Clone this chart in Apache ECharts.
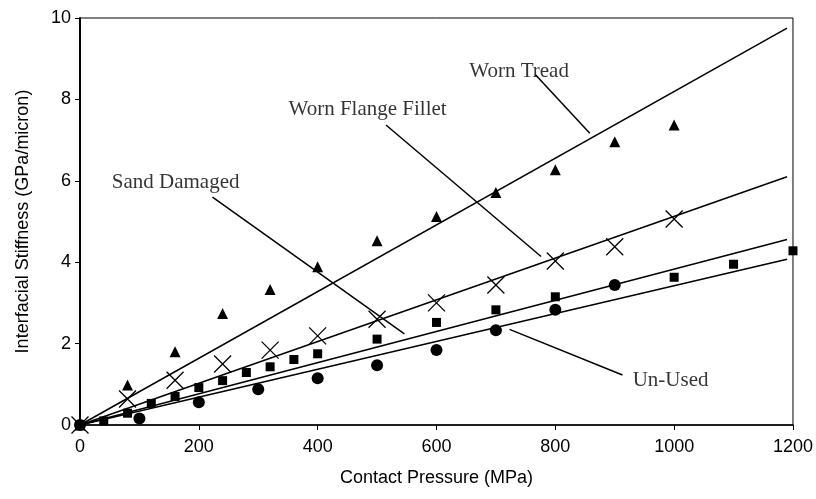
<!DOCTYPE html>
<html>
<head>
<meta charset="utf-8">
<script src="https://cdn.jsdelivr.net/npm/echarts@6/dist/echarts.min.js"></script>
<style>
html, body { margin: 0; padding: 0; background: #fff; }
#myChart { width: 816px; height: 499px; }
</style>
</head>
<body>
<div id="myChart"></div>
<script>
// 数据 (MPa, GPa/micron)
var wornTread = [[0, 0], [80, 0.98], [160, 1.80], [240, 2.74], [320, 3.33], [400, 3.89], [500, 4.53], [600, 5.12], [700, 5.71], [800, 6.27], [900, 6.96], [1000, 7.37]];
var wornFlange = [[0, 0], [80, 0.64], [160, 1.10], [240, 1.50], [320, 1.84], [400, 2.19], [500, 2.60], [600, 3.00], [700, 3.44], [800, 4.03], [900, 4.38], [1000, 5.06]];
var sandDamaged = [[0, 0], [40, 0.10], [80, 0.29], [120, 0.53], [160, 0.70], [200, 0.92], [240, 1.09], [280, 1.29], [320, 1.43], [360, 1.61], [400, 1.75], [500, 2.11], [600, 2.52], [700, 2.83], [800, 3.15], [1000, 3.63], [1100, 3.95], [1200, 4.28]];
var unUsed = [[0, 0], [100, 0.16], [200, 0.56], [300, 0.88], [400, 1.15], [500, 1.47], [600, 1.84], [700, 2.33], [800, 2.83], [900, 3.44]];

// 拟合直线
var fitTread = [[0, 0], [1190, 9.75]];
var fitFlange = [[0, 0], [1190, 6.10]];
var fitSand = [[0, 0], [1190, 4.56]];
var fitUnused = [[0, 0], [1190, 4.07]];

// 标注引线
var leaderTread = [[767, 8.60], [858, 7.17]];
var leaderFlange = [[515, 7.37], [776, 4.14]];
var leaderSand = [[223, 5.60], [546, 2.24]];
var leaderUnused = [[913, 1.23], [723, 2.35]];

// 标注文字 [x, y, text]
var labels = [[739, 8.68, 'Worn Tread'], [484, 7.75, 'Worn Flange Fillet'], [161, 5.97, 'Sand Damaged'], [994, 1.10, 'Un-Used']];

var xTicks = [0, 200, 400, 600, 800, 1000, 1200];
var yTicks = [0, 2, 4, 6, 8, 10];

var chart = echarts.init(document.getElementById('myChart'));

function lineSeries(data) {
    return {
        type: 'line',
        data: data,
        symbol: 'none',
        silent: true,
        lineStyle: { color: '#000', width: 1.5 },
        z: 2
    };
}

var opt = {
    backgroundColor: '#fff',
    animation: false,
    grid: {
        left: 80,
        right: 22,
        top: 18,
        bottom: 74,
        show: true,
        borderColor: '#000',
        borderWidth: 1
    },
    xAxis: {
        type: 'value',
        min: xTicks[0],
        max: xTicks[xTicks.length - 1],
        interval: 200,
        name: 'Contact Pressure (MPa)',
        nameLocation: 'middle',
        nameGap: 44,
        nameTextStyle: { color: '#000', fontSize: 18, fontFamily: 'Liberation Sans' },
        axisLine: { lineStyle: { color: '#000', width: 1.5 } },
        axisTick: { inside: false, length: 5, lineStyle: { color: '#000' } },
        axisLabel: {
            color: '#000', fontSize: 18, fontFamily: 'Liberation Sans', margin: 13,
            formatter: function (v) { return String(v); }
        },
        splitLine: { show: false }
    },
    yAxis: {
        type: 'value',
        min: yTicks[0],
        max: yTicks[yTicks.length - 1],
        interval: 2,
        name: 'Interfacial Stiffness (GPa/micron)',
        nameLocation: 'middle',
        nameGap: 48,
        nameTextStyle: { color: '#000', fontSize: 18, fontFamily: 'Liberation Sans' },
        axisLine: { lineStyle: { color: '#000', width: 2 } },
        axisTick: { inside: false, length: 5, lineStyle: { color: '#000' } },
        axisLabel: {
            color: '#000', fontSize: 18, fontFamily: 'Liberation Sans', margin: 9,
            formatter: function (v) { return String(v); }
        },
        splitLine: { show: false }
    },
    series: [
        lineSeries(fitTread),
        lineSeries(fitFlange),
        lineSeries(fitSand),
        lineSeries(fitUnused),
        lineSeries(leaderTread),
        lineSeries(leaderFlange),
        lineSeries(leaderSand),
        lineSeries(leaderUnused),
        {
            type: 'scatter',
            data: wornTread,
            symbol: 'triangle',
            symbolSize: 11,
            itemStyle: { color: '#000', opacity: 1 },
            z: 3
        },
        {
            type: 'scatter',
            data: wornFlange,
            symbol: 'path://M0,0L10,10M10,0L0,10',
            symbolSize: 17,
            itemStyle: { color: 'none', borderColor: '#000', borderWidth: 1.3, opacity: 1 },
            z: 3
        },
        {
            type: 'scatter',
            data: sandDamaged,
            symbol: 'rect',
            symbolSize: 9,
            itemStyle: { color: '#000', opacity: 1 },
            z: 3
        },
        {
            type: 'scatter',
            data: unUsed,
            symbol: 'circle',
            symbolSize: 12,
            itemStyle: { color: '#000', opacity: 1 },
            z: 3
        },
        {
            // 文字标注
            type: 'scatter',
            data: labels.map(function (d) { return { value: [d[0], d[1]], name: d[2] }; }),
            symbolSize: 0,
            silent: true,
            label: {
                show: true,
                position: 'inside',
                formatter: '{b}',
                color: '#000',
                fontSize: 21,
                fontFamily: 'Liberation Serif'
            },
            z: 4
        }
    ]
};
chart.setOption(opt);
window.addEventListener('resize', function () {
    chart.resize();
});
</script>
</body>
</html>
